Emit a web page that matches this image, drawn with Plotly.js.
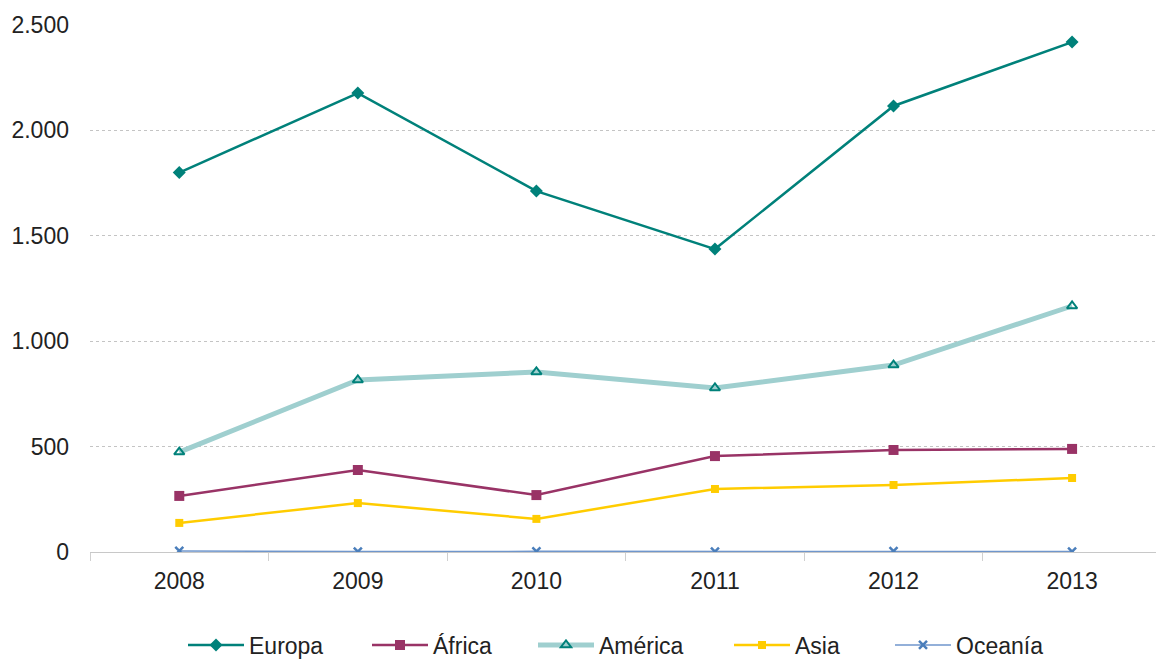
<!DOCTYPE html>
<html>
<head>
<meta charset="utf-8">
<script src="https://cdn.plot.ly/plotly-3.0.1.min.js"></script>
<style>html,body{margin:0;padding:0;background:#fff;}#chart{width:1156px;height:660px;}</style>
</head>
<body>
<div id="chart"></div>
<script>
const years = ["2008", "2009", "2010", "2011", "2012", "2013"];
const europa = [1800, 2177, 1712, 1437, 2116, 2419];
const africa = [266, 389, 270, 455, 484, 489];
const america = [474, 816, 854, 778, 887, 1167];
const asia = [138, 232, 157, 299, 318, 351];
const oceania = [5, 2, 3, 2, 4, 2];
const yTicks = [0, 500, 1000, 1500, 2000, 2500];

const traces = [
  {name: "Europa", legend: "legend", x: years, y: europa, mode: "lines+markers",
   line: {color: "#00817a", width: 2.5},
   marker: {symbol: "diamond", size: 10, color: "#00817a"}},
  {name: "África", legend: "legend2", x: years, y: africa, mode: "lines+markers",
   line: {color: "#993366", width: 2.5},
   marker: {symbol: "square", size: 10, color: "#993366"}},
  {name: "América", legend: "legend3", x: years, y: america, mode: "lines+markers",
   line: {color: "#9fcfcf", width: 5},
   marker: {symbol: "triangle-up-open", size: 9, color: "#00817a", line: {width: 2, color: "#00817a"}}},
  {name: "Asia", legend: "legend4", x: years, y: asia, mode: "lines+markers",
   line: {color: "#ffcc00", width: 2.5},
   marker: {symbol: "square", size: 8, color: "#ffcc00"}},
  {name: "Oceanía", legend: "legend5", x: years, y: oceania, mode: "lines+markers",
   line: {color: "#6f96cc", width: 1.5},
   marker: {symbol: "x-thin", size: 8, color: "#4a7ebb", line: {width: 2.5, color: "#4a7ebb"}}}
];

function leg(px) {
  return {orientation: "h", xref: "container", yref: "container", x: (px - 5) / 1156, xanchor: "left",
          y: 15 / 660, yanchor: "middle", font: {size: 23, color: "#222"},
          itemwidth: 56, bgcolor: "rgba(0,0,0,0)", borderwidth: 0};
}

const layout = {
  width: 1156, height: 660,
  margin: {l: 90, r: 0, t: 25, b: 108},
  paper_bgcolor: "#fff", plot_bgcolor: "#fff",
  separators: ",.",
  font: {family: "Liberation Sans, Arial, sans-serif", size: 23, color: "#222"},
  showlegend: true,
  legend: leg(188), legend2: leg(372), legend3: leg(538), legend4: leg(734), legend5: leg(895),
  xaxis: {type: "category", range: [-0.5, 5.47], showgrid: false, zeroline: false,
          showline: true, linecolor: "#c8c8c8", linewidth: 1,
          ticks: "outside", tickson: "boundaries", ticklen: 8, tickcolor: "#d0d0d0",
          ticklabelstandoff: 8, tickfont: {size: 23, color: "#222"}},
  yaxis: {range: [0, 2500], tickvals: yTicks, tickformat: ",d",
          showgrid: true, gridcolor: "#c4c4c4", griddash: "dot", gridwidth: 1,
          zeroline: false, showline: false, ticks: "",
          ticklabelstandoff: 20, tickfont: {size: 23, color: "#222"}}
};

Plotly.newPlot("chart", traces, layout, {displayModeBar: false, staticPlot: true});
</script>
</body>
</html>
